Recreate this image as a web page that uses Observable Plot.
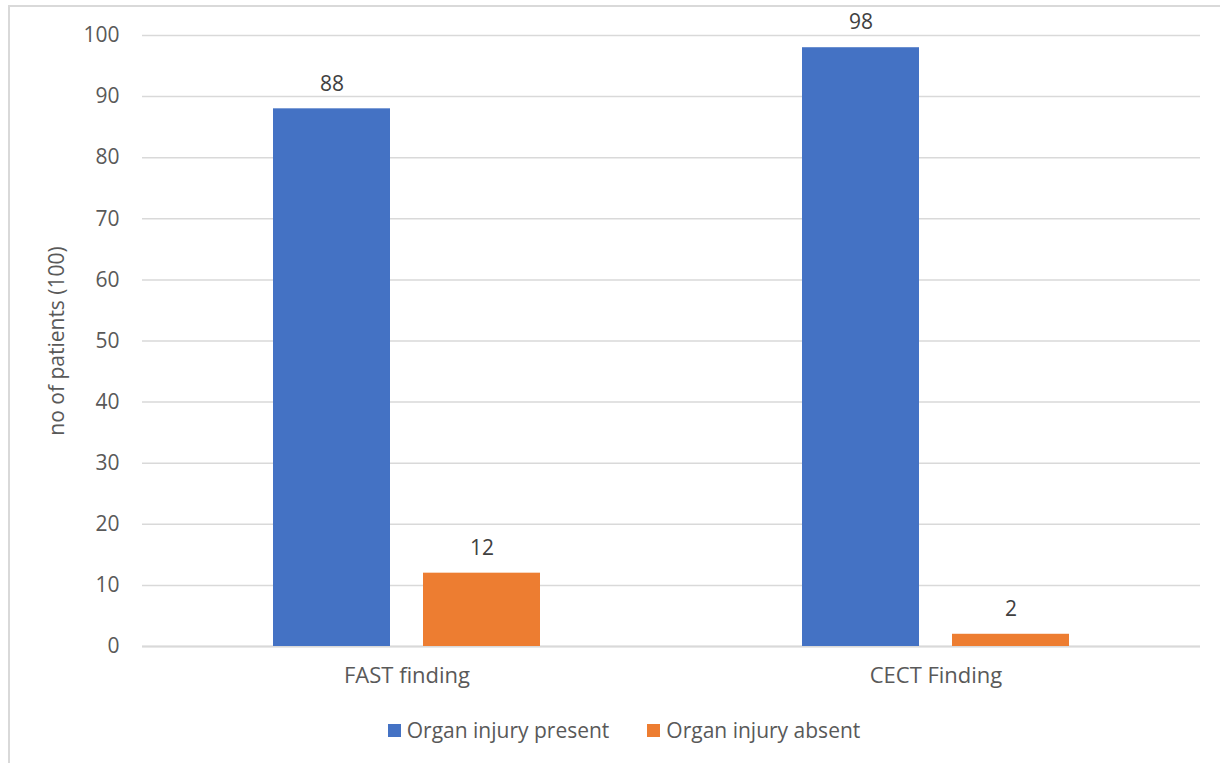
<!DOCTYPE html>
<html><head><meta charset="utf-8">
<script src="https://cdn.jsdelivr.net/npm/d3@7"></script>
<script src="https://cdn.jsdelivr.net/npm/@observablehq/plot@0.6"></script>
<style>
html,body{margin:0;padding:0;background:#fff;overflow:hidden;width:1220px;height:763px;}
#frame{position:absolute;left:8px;top:5px;width:1240px;height:800px;border:2px solid #d9d9d9;box-sizing:border-box;}
#chart{position:absolute;left:0;top:0;}
#legend{position:absolute;left:8px;width:1232px;top:716px;height:28px;display:flex;justify-content:center;align-items:center;gap:38px;font:21px "Open Sans";color:#595959;}
#legend .item{display:flex;align-items:center;gap:6px;}
#legend .sw{width:13px;height:13px;display:inline-block;}
</style>
</head><body>
<div id="frame"></div>
<div id="chart"></div>
<div id="legend"></div>
<script>
const categories = ["FAST finding", "CECT Finding"];
const series = ["Organ injury present", "Organ injury absent"];
const present = [88, 98];
const absent = [12, 2];
const colors = ["#4472C4", "#ED7D31"];
const yTicks = [0, 10, 20, 30, 40, 50, 60, 70, 80, 90, 100];
const yLabel = "no of patients (100)";

const data = [];
categories.forEach((c, i) => {
  data.push({category: c, series: series[0], value: present[i]});
  data.push({category: c, series: series[1], value: absent[i]});
});

const chart = Plot.plot({
  width: 1220, height: 700,
  marginLeft: 141, marginRight: 20, marginTop: 35, marginBottom: 54,
  style: {fontFamily: "Open Sans", fontSize: "21px", color: "#595959", background: "transparent"},
  fx: {domain: categories, padding: 0, label: null},
  x: {domain: series, paddingInner: 0.2185, paddingOuter: 0.861, axis: null},
  y: {domain: [0, 100], label: null},
  color: {domain: series, range: colors},
  marks: [
    Plot.gridY(yTicks, {stroke: "#d9d9d9", strokeOpacity: 1, strokeWidth: 1.5}),
    Plot.ruleY([0], {stroke: "#d9d9d9", strokeWidth: 2}),
    Plot.barY(data, {fx: "category", x: "series", y: "value", fill: "series"}),
    Plot.text(data, {fx: "category", x: "series", y: "value", text: d => String(d.value), dy: -25, fill: "#404040", fontSize: 21}),
    Plot.axisY(yTicks, {tickSize: 0, tickPadding: 23, label: yLabel, labelAnchor: "center", labelOffset: 93, labelArrow: "none", fontSize: 21}),
    Plot.axisFx({anchor: "bottom", tickSize: 0, tickPadding: 21, label: null, fontSize: 22})
  ]
});
document.getElementById("chart").appendChild(chart);

const legend = document.getElementById("legend");
series.forEach((s, i) => {
  const item = document.createElement("div");
  item.className = "item";
  const sw = document.createElement("span");
  sw.className = "sw";
  sw.style.background = colors[i];
  const t = document.createElement("span");
  t.textContent = s;
  item.appendChild(sw); item.appendChild(t);
  legend.appendChild(item);
});
</script>
</body></html>
